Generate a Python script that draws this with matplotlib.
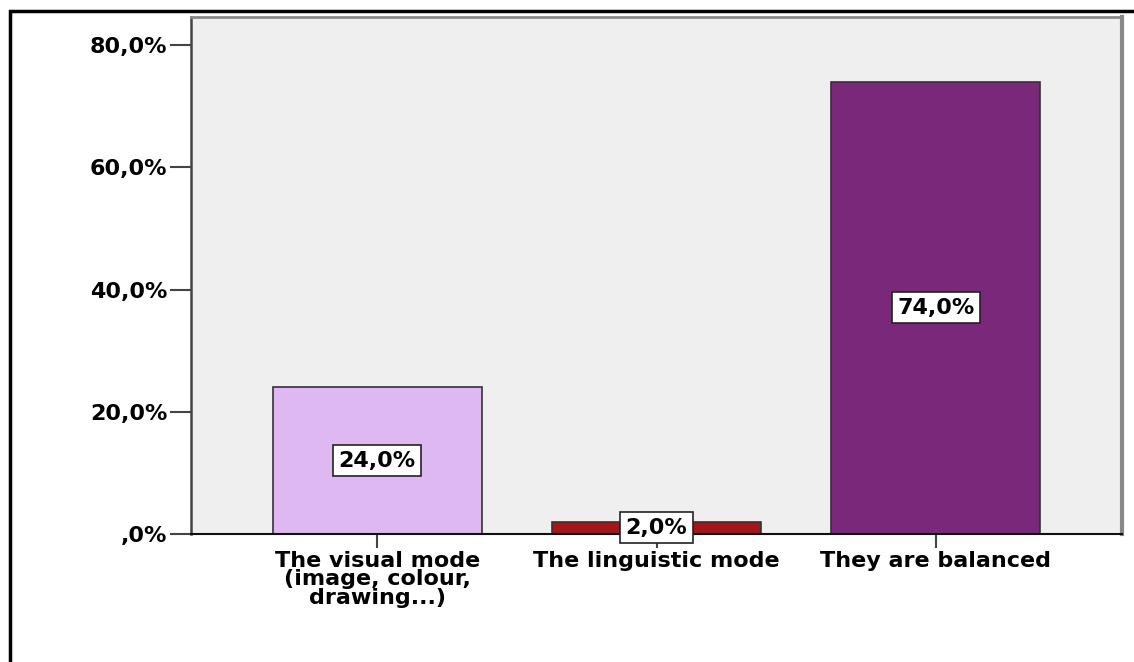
import matplotlib
matplotlib.use("Agg")
import matplotlib.pyplot as plt
from matplotlib.patches import Rectangle

categories = ["The visual mode\n(image, colour,\ndrawing...)", "The linguistic mode", "They are balanced"]
values = [24.0, 2.0, 74.0]
colors = ["#DDB8F1", "#A5161B", "#7A2879"]
yticks = [0, 20, 40, 60, 80]
ytick_labels = [",0%", "20,0%", "40,0%", "60,0%", "80,0%"]
bar_labels = ["24,0%", "2,0%", "74,0%"]

plt.rcParams['font.family'] = ['DejaVu Sans']

fig = plt.figure(figsize=(11.34, 6.62), dpi=100)
fig.patch.set_facecolor("white")
ax = fig.add_axes([191/1134, 1-534/662, (1122-191)/1134, (534-17)/662])
ax.set_facecolor("#EFEFEF")

x = list(range(len(values)))
ax.bar(x, values, width=0.75, color=colors, edgecolor="#333333", linewidth=1.2, zorder=2)

for xi, v, lab in zip(x, values, bar_labels):
    ax.text(xi, v/2, lab, ha="center", va="center", fontsize=16, fontweight="bold",
            color="black", zorder=4,
            bbox=dict(boxstyle="square,pad=0.25", facecolor="white", edgecolor="#222222", linewidth=1.2))

ax.set_xlim(-0.667, 2.667)
ax.set_ylim(0, 84.6)
ax.set_yticks(yticks)
ax.set_yticklabels(ytick_labels, fontsize=16, fontweight="bold")
ax.set_xticks(x)
ax.set_xticklabels(categories, fontsize=16, fontweight="bold", linespacing=0.92, va="top")

ax.tick_params(axis="y", length=15, width=1.5, color="#444444", pad=2)
ax.tick_params(axis="x", length=10, width=1.5, color="#444444", pad=2)

ax.spines["top"].set_color("#888888")
ax.spines["top"].set_linewidth(2)
ax.spines["right"].set_color("#888888")
ax.spines["right"].set_linewidth(3)
ax.spines["left"].set_color("#444444")
ax.spines["left"].set_linewidth(1.8)
ax.spines["bottom"].set_color("#111111")
ax.spines["bottom"].set_linewidth(1.5)
ax.spines["bottom"].set_zorder(3)

# outer frame
fig.patches.append(Rectangle((9.5/1134, -0.2), 1.2, 1.2 - 10.5/662, transform=fig.transFigure,
                             fill=False, edgecolor="black", linewidth=2.5, zorder=10))

fig.savefig("out.png", dpi=100)
